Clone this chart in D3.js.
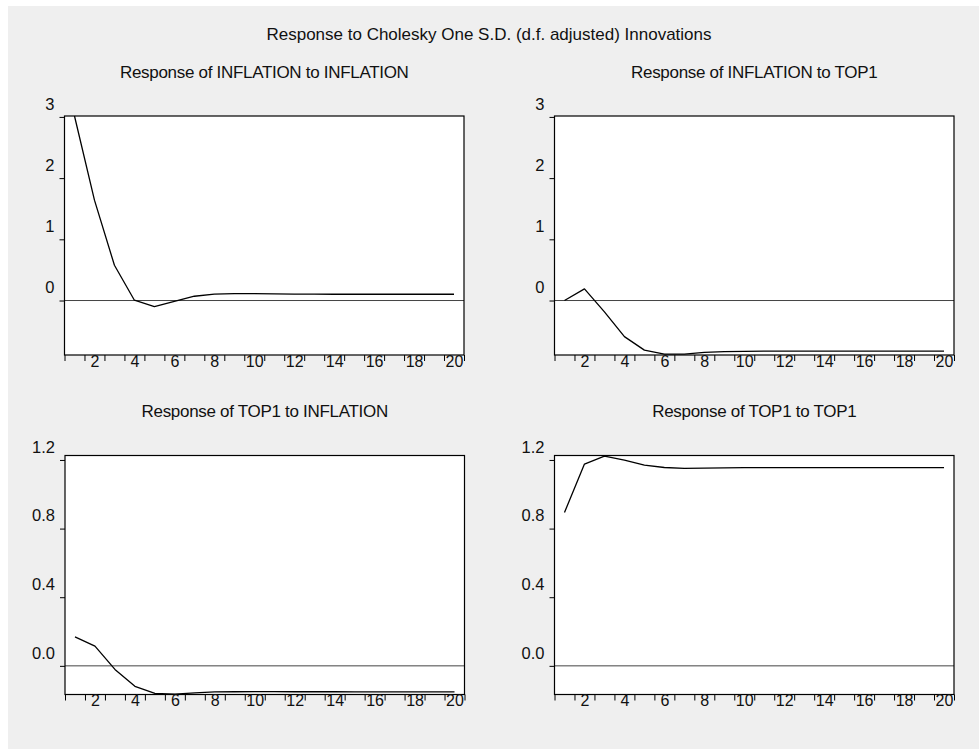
<!DOCTYPE html>
<html>
<head>
<meta charset="utf-8">
<script src="https://cdn.jsdelivr.net/npm/d3@7/dist/d3.min.js"></script>
<style>
  html, body { margin: 0; padding: 0; background: #ffffff; }
  svg { display: block; }
  text { font-family: "Liberation Sans", Arial, sans-serif; fill: #111; }
</style>
</head>
<body>
<svg id="chart" width="979" height="749"></svg>
<script>
// ---------------- DATA ----------------
const mainTitle = "Response to Cholesky One S.D. (d.f. adjusted) Innovations";
const periods = [1,2,3,4,5,6,7,8,9,10,11,12,13,14,15,16,17,18,19,20];
const xTickLabels = [2,4,6,8,10,12,14,16,18,20];

const panelTitles = [
  "Response of INFLATION to INFLATION",
  "Response of INFLATION to TOP1",
  "Response of TOP1 to INFLATION",
  "Response of TOP1 to TOP1"
];

const inflationToInflation = [3.015, 1.64, 0.576, 0.005, -0.10, -0.015, 0.07, 0.103, 0.112, 0.112,
                              0.109, 0.105, 0.104, 0.103, 0.103, 0.103, 0.103, 0.103, 0.103, 0.103];
const inflationToTop1 = [0.0, 0.19, -0.185, -0.59, -0.81, -0.875, -0.875, -0.848, -0.835, -0.830,
                         -0.828, -0.827, -0.827, -0.827, -0.827, -0.827, -0.827, -0.827, -0.827, -0.827];
const top1ToInflation = [0.169, 0.115, -0.021, -0.119, -0.161, -0.165, -0.157, -0.152, -0.151, -0.150,
                         -0.150, -0.151, -0.151, -0.151, -0.152, -0.152, -0.152, -0.152, -0.152, -0.152];
const top1ToTop1 = [0.894, 1.176, 1.2225, 1.199, 1.170, 1.156, 1.151, 1.153, 1.154, 1.155,
                    1.155, 1.155, 1.155, 1.155, 1.155, 1.155, 1.155, 1.155, 1.155, 1.155];

const yDomainTop = [-0.89, 3.015];
const yDomainBottom = [-0.167, 1.226];
const yTicksTop = [0, 1, 2, 3];
const yTicksBottom = [0.0, 0.4, 0.8, 1.2];

// ---------------- LAYOUT ----------------
const svg = d3.select("#chart");
svg.append("rect").attr("x", 8).attr("y", 6).attr("width", 979 - 8).attr("height", 749 - 6)
   .attr("fill", "#efefef");

svg.append("text").attr("x", 489).attr("y", 40).attr("text-anchor", "middle")
   .style("font-size", "17px").text(mainTitle);

const panels = [
  {title: panelTitles[0], values: inflationToInflation, left: 64.5, top: 116, dom: yDomainTop, ticks: yTicksTop, fmt: d3.format("d")},
  {title: panelTitles[1], values: inflationToTop1, left: 554.5, top: 116, dom: yDomainTop, ticks: yTicksTop, fmt: d3.format("d")},
  {title: panelTitles[2], values: top1ToInflation, left: 65, top: 455.5, dom: yDomainBottom, ticks: yTicksBottom, fmt: d3.format(".1f")},
  {title: panelTitles[3], values: top1ToTop1, left: 554.5, top: 455.5, dom: yDomainBottom, ticks: yTicksBottom, fmt: d3.format(".1f")}
];
const pw = 399.5, ph = 239;

panels.forEach(p => {
  const g = svg.append("g").attr("transform", `translate(${p.left},${p.top})`);
  const x = d3.scaleLinear().domain([0.5, 20.5]).range([0, pw]);
  const y = d3.scaleLinear().domain(p.dom).range([ph, 0]);

  g.append("rect").attr("width", pw).attr("height", ph).attr("fill", "#ffffff");

  // zero line
  g.append("line").attr("x1", 0).attr("x2", pw).attr("y1", y(0)).attr("y2", y(0))
   .attr("stroke", "#444").attr("stroke-width", 1);

  // data line
  const line = d3.line().x((d, i) => x(periods[i])).y(d => y(d));
  g.append("path").datum(p.values).attr("d", line)
   .attr("fill", "none").attr("stroke", "#000").attr("stroke-width", 1.3)
   .attr("stroke-linejoin", "round");

  // frame
  g.append("rect").attr("width", pw).attr("height", ph).attr("fill", "none")
   .attr("stroke", "#000").attr("stroke-width", 1.2);

  // y axis
  const ya = g.append("g").call(d3.axisLeft(y).tickValues(p.ticks).tickFormat(p.fmt).tickSize(5).tickPadding(5));
  ya.select(".domain").remove();
  ya.selectAll(".tick line").attr("stroke", "#000");
  ya.selectAll(".tick text").attr("y", -7.7).attr("dy", 0)
    .style("font-size", "16.5px").style("font-family", "Liberation Sans, Arial, sans-serif").attr("fill", "#111");

  // x axis ticks at half positions
  const halfTicks = periods.map(v => v - 0.5).concat([20.5]);
  const xa = g.append("g").attr("transform", `translate(0,${ph})`)
    .call(d3.axisBottom(x).tickValues(halfTicks).tickFormat("").tickSize(6));
  xa.select(".domain").remove();
  xa.selectAll(".tick line").attr("stroke", "#000");

  // x labels centered on periods
  const xl = g.append("g").attr("transform", `translate(0,${ph})`)
    .call(d3.axisBottom(x).tickValues(xTickLabels).tickFormat(d3.format("d")).tickSize(0));
  xl.select(".domain").remove();
  xl.selectAll(".tick text").attr("y", 11.5).attr("dy", 0)
    .style("font-size", "16px").style("font-family", "Liberation Sans, Arial, sans-serif").attr("fill", "#111");

  // panel title
  svg.append("text").attr("x", p.left + pw / 2).attr("y", p.top - 38.5)
     .attr("text-anchor", "middle").style("font-size", "17px").style("letter-spacing", "-0.3px")
     .text(p.title);
});
</script>
</body>
</html>
